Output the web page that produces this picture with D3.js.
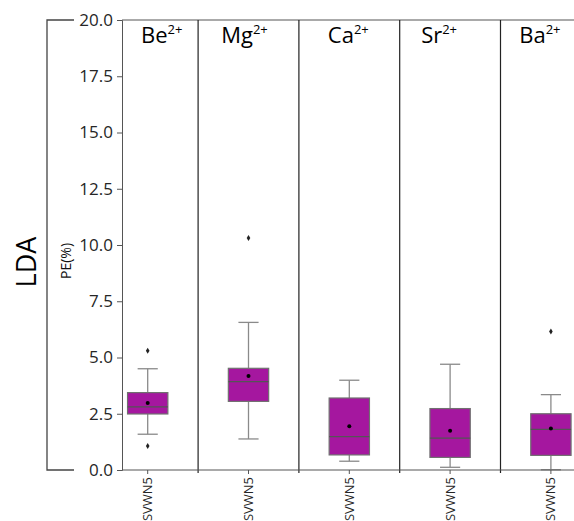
<!DOCTYPE html>
<html>
<head>
<meta charset="utf-8">
<script src="https://cdn.jsdelivr.net/npm/d3@7"></script>
<style>
  body { margin: 0; background: #fff; }
  svg { display: block; font-family: "Open Sans", "Noto Sans", sans-serif; }
</style>
</head>
<body>
<div id="graph"></div>
<script>
// Data: one box per ion, all for SVWN5 / LDA
const ions = ["Be", "Mg", "Ca", "Sr", "Ba"];
const functionalLabel = "SVWN5";
const whiskerLow = [1.59, 1.38, 0.39, 0.12, 0.01];
const q1 = [2.49, 3.05, 0.67, 0.56, 0.65];
const medians = [2.81, 3.93, 1.48, 1.42, 1.81];
const q3 = [3.44, 4.52, 3.2, 2.73, 2.5];
const whiskerHigh = [4.5, 6.56, 3.99, 4.7, 3.35];
const means = [2.98, 4.18, 1.94, 1.75, 1.84];
const outliers = [[5.3, 1.07], [10.31], [], [], [6.16]];
const yTicks = [0, 2.5, 5, 7.5, 10, 12.5, 15, 17.5, 20];

const width = 574;
const height = 521;
const plot = { left: 122, right: 574, top: 20, bottom: 470 };
const boxFill = "#a5179f";
const boxStroke = "#707070";
// titles are text boxes, not quite centred on their panels
const titleNudge = [14, -4, -1, -11, -11];

const data = ions.map((ion, i) => ({
  ion,
  lo: whiskerLow[i],
  q1: q1[i],
  med: medians[i],
  q3: q3[i],
  hi: whiskerHigh[i],
  mean: means[i],
  outliers: outliers[i],
}));

const svg = d3
  .select("#graph")
  .append("svg")
  .attr("width", width)
  .attr("height", height);

const y = d3.scaleLinear().domain([0, 20]).range([plot.bottom, plot.top]);
// panels are ~100.8px wide; the first one is partly hidden behind the y axis
const x = d3.scaleBand().domain(ions).range([97.3, 601.3]).padding(0);
const boxW = x.bandwidth() * 0.4;
const cx = d => x(d) + x.bandwidth() / 2;

svg
  .append("clipPath")
  .attr("id", "plotClip")
  .append("rect")
  .attr("x", plot.left)
  .attr("y", 0)
  .attr("width", plot.right - plot.left)
  .attr("height", height);

const g = svg.append("g").attr("clip-path", "url(#plotClip)");

// top border
g.append("line")
  .attr("x1", plot.left)
  .attr("x2", plot.right)
  .attr("y1", plot.top)
  .attr("y2", plot.top)
  .attr("stroke", "#555")
  .attr("stroke-width", 1);

// panel separators
g.selectAll(".sep")
  .data(ions)
  .enter()
  .append("line")
  .attr("x1", d => x(d) + x.bandwidth())
  .attr("x2", d => x(d) + x.bandwidth())
  .attr("y1", plot.top)
  .attr("y2", plot.bottom + 3)
  .attr("stroke", "#222")
  .attr("stroke-width", 1.2);

// ion titles
const titles = g
  .selectAll(".title")
  .data(ions)
  .enter()
  .append("text")
  .attr("x", (d, i) => cx(d) + titleNudge[i])
  .attr("y", 43)
  .attr("text-anchor", "middle")
  .style("font-size", "22px")
  .attr("fill", "#000");
titles.append("tspan").text(d => d);
titles
  .append("tspan")
  .attr("dy", -9)
  .style("font-size", "13px")
  .text("2+");

const box = g
  .selectAll(".box")
  .data(data)
  .enter()
  .append("g")
  .attr("transform", d => `translate(${cx(d.ion)},0)`);

// whiskers
box
  .append("line")
  .attr("y1", d => y(d.lo))
  .attr("y2", d => y(d.q1))
  .attr("stroke", "#8a8a8a")
  .attr("stroke-width", 1.3);
box
  .append("line")
  .attr("y1", d => y(d.q3))
  .attr("y2", d => y(d.hi))
  .attr("stroke", "#8a8a8a")
  .attr("stroke-width", 1.3);
["lo", "hi"].forEach(k => {
  box
    .append("line")
    .attr("x1", -boxW / 4)
    .attr("x2", boxW / 4)
    .attr("y1", d => y(d[k]))
    .attr("y2", d => y(d[k]))
    .attr("stroke", "#8a8a8a")
    .attr("stroke-width", 1.3);
});

// boxes
box
  .append("rect")
  .attr("x", -boxW / 2)
  .attr("width", boxW)
  .attr("y", d => y(d.q3))
  .attr("height", d => y(d.q1) - y(d.q3))
  .attr("fill", boxFill)
  .attr("stroke", boxStroke)
  .attr("stroke-width", 1.2);

// medians
box
  .append("line")
  .attr("x1", -boxW / 2)
  .attr("x2", boxW / 2)
  .attr("y1", d => y(d.med))
  .attr("y2", d => y(d.med))
  .attr("stroke", "#555")
  .attr("stroke-width", 1.3);

// means
box
  .append("circle")
  .attr("cy", d => y(d.mean))
  .attr("r", 2)
  .attr("fill", "#000");

// fliers as small diamonds
box
  .selectAll(".flier")
  .data(d => d.outliers)
  .enter()
  .append("path")
  .attr("d", v => `M0,${y(v) - 3}L1.8,${y(v)}L0,${y(v) + 3}L-1.8,${y(v)}Z`)
  .attr("fill", "#222");

// y axis
const yAxis = svg
  .append("g")
  .attr("transform", `translate(${plot.left},0)`)
  .call(
    d3.axisLeft(y).tickValues(yTicks).tickFormat(d3.format(".1f")).tickSize(5).tickPadding(4)
  );
yAxis.select(".domain").attr("stroke", "#555");
yAxis.selectAll(".tick line").attr("stroke", "#555");
yAxis
  .selectAll(".tick text")
  .attr("font-size", null)
  .style("font-size", "17px")
  .style("font-family", "'Open Sans', sans-serif")
  .attr("fill", "#262626");
yAxis.attr("font-size", null);

// x axis
const xAxis = svg
  .append("g")
  .attr("transform", `translate(0,${plot.bottom})`)
  .call(d3.axisBottom(x).tickSize(4).tickFormat(() => functionalLabel));
xAxis.attr("font-size", null);
xAxis.select(".domain").remove();
xAxis
  .append("line")
  .attr("x1", plot.left)
  .attr("x2", plot.right)
  .attr("stroke", "#555");
xAxis.selectAll(".tick line").attr("stroke", "#555");
xAxis
  .selectAll(".tick text")
  .attr("transform", "rotate(-90)")
  .attr("x", -7)
  .attr("y", 0)
  .attr("dy", "0.35em")
  .attr("text-anchor", "end")
  .style("font-size", "13px")
  .style("font-family", "'Open Sans', sans-serif")
  .attr("fill", "#262626");

// PE(%) label
svg
  .append("text")
  .attr("transform", `translate(71,261) rotate(-90)`)
  .attr("text-anchor", "middle")
  .style("font-size", "14px")
  .attr("fill", "#111")
  .text("PE(%)");

// LDA bracket
svg
  .append("path")
  .attr("d", `M74,${plot.top}H47V${plot.bottom}H74`)
  .attr("fill", "none")
  .attr("stroke", "#444")
  .attr("stroke-width", 1.3);

svg
  .append("text")
  .attr("transform", `translate(36,262) rotate(-90)`)
  .attr("text-anchor", "middle")
  .style("font-size", "27px")
  .attr("fill", "#000")
  .text("LDA");
</script>
</body>
</html>
